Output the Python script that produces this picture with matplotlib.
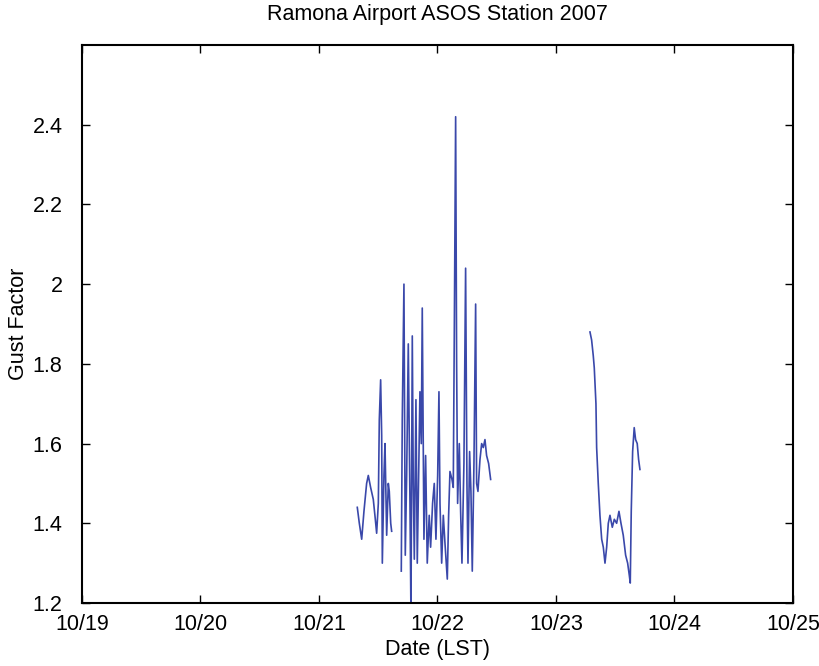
import numpy as np
import pandas as pd
import matplotlib
matplotlib.use("Agg")
import matplotlib.pyplot as plt
import matplotlib.dates as mdates

plt.rcParams['font.family'] = ['Liberation Sans', 'DejaVu Sans']

# hours after 10/21/2007 00:00 LST
hours_a = [7.76, 8.17, 8.65, 9.11, 9.65, 9.99, 10.46, 11.00, 11.41, 11.68,
           12.02, 12.22, 12.49, 12.70, 12.83, 13.16, 13.37, 13.71, 14.04, 14.24,
           14.53, 14.72]
gust_a = [1.44, 1.40, 1.36, 1.43, 1.50, 1.52, 1.49, 1.46, 1.41, 1.375,
          1.45, 1.66, 1.76, 1.62, 1.30, 1.52, 1.60, 1.37, 1.50, 1.48,
          1.40, 1.38]

hours_b = [16.67, 16.87, 17.21, 17.48, 17.76, 18.09, 18.43, 18.63, 18.90, 19.10,
           19.31, 19.64, 19.91, 20.45, 20.72, 20.92, 21.26, 21.60, 21.93, 22.33,
           22.61, 23.01, 23.35, 23.69, 24.04, 24.30, 24.51, 24.85, 25.18, 25.52,
           25.99, 26.26, 26.53, 26.94, 27.20, 27.41, 27.68, 27.88, 28.08, 28.42,
           28.69, 28.96, 29.36, 29.70, 29.97, 30.18, 30.51, 30.78, 31.05, 31.39,
           31.73, 31.93, 32.20, 32.61, 32.95, 33.28, 33.62, 33.95, 34.36, 34.77]
gust_b = [1.28, 1.66, 2.00, 1.32, 1.52, 1.85, 1.45, 1.17, 1.87, 1.50,
          1.31, 1.71, 1.30, 1.73, 1.60, 1.94, 1.36, 1.57, 1.30, 1.42,
          1.34, 1.45, 1.50, 1.36, 1.52, 1.73, 1.45, 1.30, 1.42, 1.35,
          1.26, 1.42, 1.53, 1.51, 1.49, 1.88, 2.42, 1.80, 1.45, 1.60,
          1.43, 1.30, 1.55, 2.04, 1.50, 1.30, 1.58, 1.48, 1.28, 1.55,
          1.95, 1.50, 1.48, 1.56, 1.60, 1.59, 1.61, 1.57, 1.55, 1.51]

hours_c = [54.89, 55.22, 55.56, 55.76, 56.10, 56.24, 56.57, 56.91, 57.26, 57.59,
           57.93, 58.27, 58.60, 58.94, 59.41, 59.82, 60.29, 60.76, 61.17, 61.63,
           62.11, 62.52, 62.85, 63.05, 63.25, 63.53, 63.85, 64.13, 64.46, 64.74,
           65.01]
gust_c = [1.88, 1.86, 1.82, 1.79, 1.70, 1.59, 1.50, 1.42, 1.36, 1.34,
          1.30, 1.34, 1.40, 1.42, 1.39, 1.41, 1.40, 1.43, 1.40, 1.37,
          1.32, 1.30, 1.27, 1.25, 1.43, 1.58, 1.64, 1.61, 1.60, 1.56,
          1.535]

day_ticks = ['10/19', '10/20', '10/21', '10/22', '10/23', '10/24', '10/25']
y_ticks = [1.2, 1.4, 1.6, 1.8, 2.0, 2.2, 2.4]
y_labels = ['1.2', '1.4', '1.6', '1.8', '2', '2.2', '2.4']

# join the pieces with gaps (missing obs)
t0 = pd.Timestamp('2007-10-21 00:00')
hrs = hours_a + [np.nan] + hours_b + [np.nan] + hours_c
gust = gust_a + [np.nan] + gust_b + [np.nan] + gust_c
times = [t0 + pd.Timedelta(hours=h) if not np.isnan(h) else pd.NaT for h in hrs]
x = np.array([mdates.date2num(t) if t is not pd.NaT else np.nan for t in times])

fig = plt.figure(figsize=(8.2, 6.66), dpi=100)
ax = fig.add_axes([0.1, 0.0946, 0.867, 0.8378])

ax.plot(x, gust, color='#3a48aa', lw=1.2)

tick_dates = [mdates.date2num(pd.Timestamp('2007/' + d)) for d in day_ticks]
ax.set_xlim(tick_dates[0], tick_dates[-1])
ax.set_xticks(tick_dates)
ax.set_xticklabels(day_ticks)
ax.set_ylim(1.2, 2.6)
ax.set_yticks(y_ticks)
ax.set_yticklabels(y_labels)

ax.tick_params(direction='in', length=6, width=1, top=True, right=True,
               labelsize=15.5)
ax.tick_params(axis='x', pad=8)
ax.tick_params(axis='y', pad=14)
for s in ax.spines.values():
    s.set_linewidth(1.5)

ax.set_title('Ramona Airport ASOS Station 2007', fontsize=15.5, pad=18)
ax.set_xlabel('Date (LST)', fontsize=15.5, labelpad=3)
ax.set_ylabel('Gust Factor', fontsize=15.5)
ax.yaxis.set_label_coords(-0.075, 0.5)

fig.savefig('out.png', dpi=100)
